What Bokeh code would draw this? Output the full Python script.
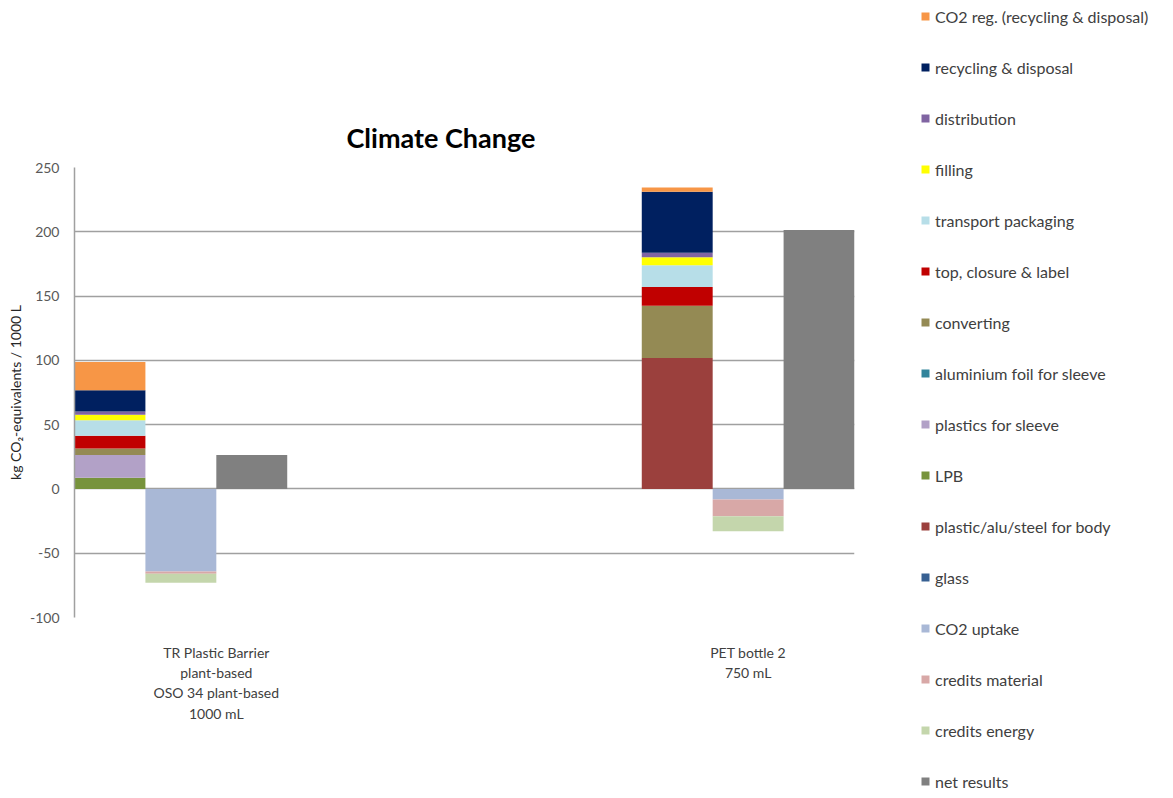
from bokeh.plotting import figure
from bokeh.models import Range1d, FixedTicker, Legend, LegendItem, ColumnDataSource
from bokeh.embed import file_html
from bokeh.resources import INLINE

# ---------------- data (kg CO2-equivalents / 1000 L) ----------------
products = ["TR Plastic Barrier\nplant-based\nOSO 34 plant-based\n1000 mL",
            "PET bottle 2\n750 mL"]

glass = [0.0, 0.0]
body = [0.0, 101.8]              # plastic/alu/steel for body
lpb = [8.6, 0.0]
sleeve_plastics = [17.7, 0.0]
sleeve_alu = [0.0, 0.0]
converting = [5.2, 40.6]
closure = [9.9, 14.6]            # top, closure & label
transport = [12.0, 16.9]
filling = [4.2, 6.2]
distribution = [2.6, 3.6]
recycling = [16.6, 47.4]
co2_reg = [21.9, 3.4]

co2_uptake = [-64.3, -8.3]
credits_material = [-1.6, -13.0]
credits_energy = [-7.0, -11.7]

net_results = [26.3, 201.4]

burden_names = ["glass", "plastic/alu/steel for body", "LPB", "plastics for sleeve",
                "aluminium foil for sleeve", "converting", "top, closure & label",
                "transport packaging", "filling", "distribution",
                "recycling & disposal", "CO2 reg. (recycling & disposal)"]
burden_values = [glass, body, lpb, sleeve_plastics, sleeve_alu, converting, closure,
                 transport, filling, distribution, recycling, co2_reg]
burden_colors = ["#376092", "#9b403d", "#77933c", "#b2a1c7", "#31849b", "#948a54",
                 "#c00000", "#b7dee8", "#ffff00", "#8064a2", "#002060", "#f79646"]

credit_names = ["CO2 uptake", "credits material", "credits energy"]
credit_values = [co2_uptake, credits_material, credits_energy]
credit_colors = ["#a9b8d6", "#d8a8a7", "#c4d6ac"]

net_name = "net results"
net_color = "#808080"

y_ticks = [-100, -50, 0, 50, 100, 150, 200, 250]

# layout of slots on the numeric x axis (3 adjacent bars per product)
group_start = [0, 8]
label_pos = [2.0, 9.5]

FONT = "Lato"

# ---------------- figure ----------------
p = figure(frame_width=780, height=790, x_range=Range1d(0, 11), y_range=Range1d(-100, 250),
           output_backend="svg", toolbar_location=None,
           min_border_left=74, min_border_right=311, min_border_top=167,
           min_border_bottom=173)
p.outline_line_color = None

bx = [s + 0.5 for s in group_start]
cx = [s + 1.5 for s in group_start]
nx = [s + 2.5 for s in group_start]

bsrc = ColumnDataSource(dict(x=bx, **{n: v for n, v in zip(burden_names, burden_values)}))
b_rends = p.vbar_stack(burden_names, x="x", width=1.0, color=burden_colors,
                       line_color=None, source=bsrc)

csrc = ColumnDataSource(dict(x=cx, **{n: v for n, v in zip(credit_names, credit_values)}))
c_rends = p.vbar_stack(credit_names, x="x", width=1.0, color=credit_colors,
                       line_color=None, source=csrc)

n_rend = p.vbar(x=nx, top=net_results, bottom=0, width=1.0, color=net_color,
                line_color=None)

p.title.text = "Climate Change"
p.title.text_font = FONT
p.title.text_font_size = "27px"
p.title.text_font_style = "bold"
p.title.text_color = "black"
p.title.align = "left"
p.title.offset = 272
p.title.standoff = 27

p.yaxis.ticker = FixedTicker(ticks=y_ticks)
p.yaxis.major_label_overrides = {t: str(t) for t in y_ticks}
p.yaxis.axis_label = "kg CO\u2082-equivalents / 1000 L"
p.yaxis.axis_label_text_font = FONT
p.yaxis.axis_label_text_font_size = "14px"
p.yaxis.axis_label_text_font_style = "normal"
p.yaxis.axis_label_text_color = "#262626"
p.yaxis.axis_label_standoff = 3
p.yaxis.major_label_text_font = FONT
p.yaxis.major_label_text_font_size = "14px"
p.yaxis.major_label_text_color = "#595959"
p.yaxis.major_label_standoff = 9
p.yaxis.major_tick_line_color = None
p.yaxis.minor_tick_line_color = None
p.yaxis.axis_line_color = "#a0a0a0"
p.yaxis.axis_line_width = 1.5

p.xaxis.ticker = FixedTicker(ticks=label_pos)
p.xaxis.major_label_overrides = {pos: lab for pos, lab in zip(label_pos, products)}
p.xaxis.major_label_text_font = FONT
p.xaxis.major_label_text_font_size = "14px"
p.xaxis.major_label_text_color = "#404040"
p.xaxis.major_label_standoff = 20
p.xaxis.major_tick_line_color = None
p.xaxis.minor_tick_line_color = None
p.xaxis.axis_line_color = None

p.xgrid.visible = False
p.ygrid.grid_line_color = "#a0a0a0"
p.ygrid.grid_line_width = 1.5

# ---------------- legend (right panel, single column, not clipped) ----------------
legend_names = list(reversed(burden_names)) + credit_names + [net_name]
legend_rends = list(reversed(b_rends)) + list(c_rends) + [n_rend]

items = [LegendItem(label=n, renderers=[r]) for n, r in zip(legend_names, legend_rends)]

legend = Legend(items=items, location=(66, -174), orientation="vertical", ncols=1,
                glyph_width=10, glyph_height=10, label_height=20, spacing=31,
                label_standoff=5, padding=0, margin=0,
                border_line_color=None, background_fill_alpha=0,
                label_text_font=FONT, label_text_font_size="16px",
                label_text_color="#404040")
p.add_layout(legend, "right")

open("out.html", "w").write(file_html(p, INLINE))
